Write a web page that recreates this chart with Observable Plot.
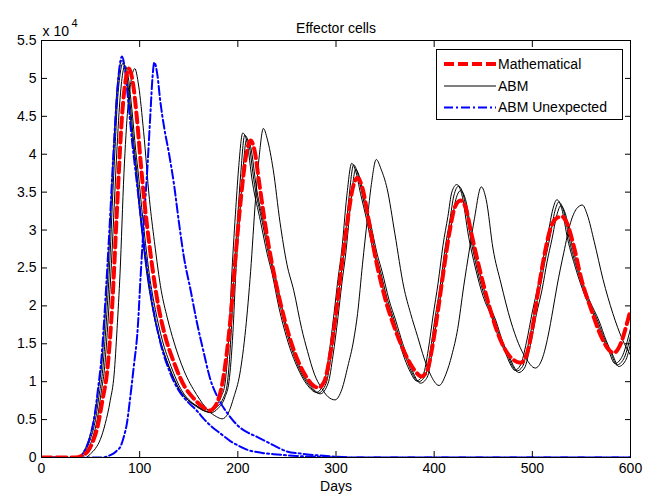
<!DOCTYPE html>
<html><head><meta charset="utf-8">
<script src="https://cdn.jsdelivr.net/npm/d3@7"></script>
<script src="https://cdn.jsdelivr.net/npm/@observablehq/plot@0.6"></script>
<style>
body{margin:0;background:#fff;font-family:"Liberation Sans",Arial,sans-serif;}
#wrap{position:relative;width:654px;height:499px;overflow:hidden;}
#legend{position:absolute;left:436px;top:49px;width:185px;height:69px;border:1px solid #000;background:#fff;}
#legend svg{position:absolute;left:0;top:0;}
#legend text{font-family:"Liberation Sans",Arial,sans-serif;font-size:14px;fill:#000;}
</style>
</head><body>
<div id="wrap"></div>
<script>
// Tick values
const xTicks = [0, 100, 200, 300, 400, 500, 600];
const yTicks = [0, 0.5, 1, 1.5, 2, 2.5, 3, 3.5, 4, 4.5, 5, 5.5];

// Effector cells (x 10^4) vs days
const mathematical = [[0,0],[35,0],[42,0.03],[47,0.08],[52,0.2],[57,0.4],[62,0.75],[67,1.15],[72,2.0],[77,3.3],[82,4.5],[86,5.0],[89,5.13],[93,4.95],[97,4.5],[101,3.9],[105,3.35],[109,2.9],[113,2.5],[119,2.0],[126,1.6],[135,1.25],[146,0.93],[155,0.78],[163,0.68],[171,0.62],[178,0.7],[183,0.9],[188,1.3],[193,1.9],[198,2.7],[203,3.4],[208,3.95],[213,4.18],[217,4.05],[222,3.6],[230,2.9],[238,2.35],[248,1.8],[258,1.38],[268,1.1],[276,0.96],[282,0.92],[288,1.0],[294,1.35],[300,1.9],[306,2.55],[312,3.15],[317,3.55],[322,3.69],[327,3.55],[333,3.15],[340,2.65],[350,2.1],[360,1.7],[370,1.38],[380,1.15],[387,1.07],[393,1.15],[398,1.45],[404,1.95],[410,2.5],[416,3.0],[421,3.3],[427,3.39],[432,3.3],[438,2.95],[446,2.5],[456,2.0],[466,1.6],[476,1.35],[488,1.25],[494,1.35],[500,1.7],[506,2.2],[512,2.65],[518,3.0],[524,3.15],[530,3.18],[535,3.1],[542,2.8],[550,2.35],[560,1.95],[570,1.6],[578,1.42],[583,1.38],[590,1.5],[596,1.75],[600,1.95]];

const abmRunA = [[0,0],[38,0],[42,0.04],[46,0.12],[50,0.25],[55,0.5],[59,0.85],[62,1.11],[65,1.6],[67,1.99],[70,2.7],[72,3.31],[75,4.1],[77,4.62],[80,5.05],[83,5.2],[86,5.1],[90,4.7],[94,4.15],[97,3.78],[100,3.35],[104,2.85],[108,2.43],[114,1.95],[121,1.55],[130,1.2],[141,0.89],[150,0.75],[159,0.67],[170,0.6],[178,0.66],[185,0.78],[189,0.95],[193,1.6],[196,2.4],[200,3.2],[203,3.75],[207,4.25],[211,4.15],[217,3.6],[225,3.1],[232,2.65],[237,2.4],[244,1.95],[252,1.55],[263,1.16],[272,0.96],[282,0.85],[290,0.98],[295,1.35],[300,1.85],[304,2.3],[308,2.7],[313,3.4],[318,3.86],[322,3.75],[327,3.45],[333,3.13],[340,2.7],[345,2.47],[352,2.1],[359,1.82],[366,1.52],[372,1.29],[378,1.1],[384,1.0],[391,1.08],[396,1.4],[401,1.85],[406,2.25],[411,2.75],[416,3.13],[420,3.45],[425,3.58],[430,3.45],[437,2.9],[444,2.47],[452,2.1],[461,1.82],[468,1.55],[474,1.38],[480,1.2],[484,1.14],[490,1.2],[496,1.5],[502,1.9],[508,2.25],[513,2.6],[518,2.91],[523,3.25],[527,3.37],[532,3.25],[538,2.85],[546,2.47],[556,2.1],[566,1.82],[573,1.58],[580,1.38],[586,1.22],[593,1.3],[600,1.6]];

const abmRunB = [[0,0],[40,0],[44,0.04],[48,0.12],[52,0.26],[57,0.52],[61,0.88],[64,1.15],[67,1.65],[69,2.05],[72,2.75],[74,3.3],[77,4.1],[79,4.55],[82,5.0],[85,5.17],[88,5.05],[92,4.6],[96,4.05],[99,3.7],[102,3.3],[106,2.82],[110,2.4],[116,1.95],[123,1.55],[132,1.2],[143,0.88],[152,0.74],[161,0.66],[172,0.59],[180,0.65],[187,0.8],[191,1.0],[195,1.65],[198,2.45],[202,3.2],[205,3.75],[209,4.2],[213,4.1],[219,3.55],[227,3.05],[234,2.6],[239,2.35],[246,1.92],[254,1.52],[265,1.14],[274,0.95],[284,0.84],[292,0.98],[297,1.35],[302,1.85],[306,2.3],[310,2.7],[315,3.35],[320,3.8],[324,3.7],[329,3.42],[335,3.1],[342,2.68],[347,2.45],[354,2.08],[361,1.8],[368,1.5],[374,1.28],[380,1.08],[386,0.98],[393,1.06],[398,1.4],[403,1.85],[408,2.25],[413,2.75],[418,3.1],[422,3.4],[427,3.52],[432,3.4],[439,2.88],[446,2.45],[454,2.08],[463,1.8],[470,1.52],[476,1.35],[482,1.18],[486,1.12],[492,1.18],[498,1.48],[504,1.88],[510,2.22],[515,2.58],[520,2.88],[525,3.2],[529,3.32],[534,3.2],[540,2.82],[548,2.44],[558,2.08],[568,1.8],[575,1.55],[582,1.35],[588,1.2],[595,1.28],[600,1.5]];

const abmRunC = [[0,0],[37,0],[41,0.04],[45,0.13],[49,0.27],[54,0.55],[58,0.9],[61,1.18],[64,1.7],[66,2.1],[69,2.8],[71,3.4],[74,4.2],[76,4.7],[79,5.1],[82,5.24],[85,5.12],[89,4.7],[93,4.15],[96,3.8],[99,3.38],[103,2.88],[107,2.45],[113,1.97],[120,1.57],[129,1.22],[140,0.9],[149,0.76],[158,0.67],[168,0.61],[176,0.67],[183,0.8],[187,0.98],[191,1.65],[194,2.45],[198,3.3],[201,3.85],[205,4.28],[209,4.18],[215,3.62],[223,3.12],[230,2.68],[235,2.42],[242,1.97],[250,1.57],[261,1.18],[270,0.97],[280,0.86],[288,0.99],[293,1.38],[298,1.9],[302,2.35],[306,2.75],[311,3.45],[316,3.88],[320,3.78],[325,3.48],[331,3.15],[338,2.72],[343,2.5],[350,2.12],[357,1.84],[364,1.54],[370,1.3],[376,1.12],[382,1.01],[389,1.1],[394,1.42],[399,1.88],[404,2.3],[409,2.8],[414,3.18],[418,3.5],[423,3.6],[428,3.48],[435,2.92],[442,2.5],[450,2.12],[459,1.84],[466,1.57],[472,1.4],[478,1.22],[482,1.15],[488,1.22],[494,1.52],[500,1.92],[506,2.28],[511,2.62],[516,2.95],[521,3.28],[525,3.4],[530,3.28],[536,2.88],[544,2.5],[554,2.12],[564,1.84],[571,1.6],[578,1.4],[584,1.24],[591,1.32],[600,1.7]];

const abmRunLate = [[0,0],[45,0],[50,0.05],[55,0.12],[60,0.24],[65,0.45],[70,0.75],[74,1.1],[77,1.7],[80,2.43],[84,3.75],[88,4.62],[91,4.95],[95,5.13],[99,4.9],[104,4.3],[110,3.4],[115,2.85],[122,2.2],[128,1.85],[135,1.52],[145,1.15],[158,0.83],[170,0.62],[178,0.54],[184,0.51],[190,0.58],[196,0.8],[202,1.1],[208,1.7],[213,2.45],[218,3.4],[222,4.0],[226,4.34],[230,4.2],[236,3.8],[243,3.1],[250,2.55],[257,2.2],[265,1.7],[271,1.4],[278,1.1],[285,0.92],[292,0.8],[299,0.76],[306,0.9],[312,1.2],[318,1.55],[322,1.9],[327,2.55],[332,3.15],[336,3.6],[341,3.93],[346,3.8],[352,3.55],[360,2.95],[369,2.25],[376,1.9],[383,1.6],[390,1.3],[396,1.1],[405,0.95],[412,1.1],[418,1.35],[424,1.7],[430,2.25],[436,2.75],[441,3.15],[448,3.57],[453,3.4],[460,2.75],[468,2.3],[478,1.8],[486,1.5],[493,1.32],[503,1.18],[510,1.3],[516,1.6],[521,1.95],[525,2.25],[532,2.7],[539,3.1],[545,3.28],[551,3.33],[556,3.2],[563,2.85],[572,2.35],[582,1.9],[592,1.55],[600,1.35]];

const unexpectedRun1 = [[0,0],[38,0],[42,0.05],[46,0.14],[50,0.3],[54,0.55],[58,0.95],[61,1.3],[64,1.85],[67,2.5],[70,3.2],[73,3.95],[76,4.6],[79,5.1],[82,5.29],[85,5.12],[88,4.75],[92,4.2],[96,3.75],[100,3.3],[104,2.85],[108,2.45],[114,1.95],[121,1.52],[130,1.15],[140,0.88],[150,0.72],[158,0.62],[166,0.5],[174,0.4],[182,0.32],[192,0.22],[200,0.16],[210,0.1],[225,0.06],[240,0.04],[260,0.02],[280,0.01],[300,0],[600,0]];

const unexpectedRun2 = [[0,0],[62,0],[70,0.03],[76,0.08],[81,0.16],[84,0.28],[87,0.45],[90,0.75],[94,1.2],[98,1.7],[101,2.4],[105,3.25],[108,3.85],[111,4.55],[113,5.0],[115,5.21],[118,5.05],[121,4.7],[125,4.35],[130,4.0],[135,3.6],[140,3.1],[145,2.65],[152,2.2],[158,1.8],[165,1.4],[172,1.03],[180,0.78],[189,0.59],[200,0.42],[210,0.33],[220,0.27],[235,0.17],[250,0.08],[265,0.05],[280,0.03],[300,0.01],[320,0],[600,0]];

const legendLabels = ["Mathematical", "ABM", "ABM Unexpected"];

const rows = pts => pts.map(([day, cells]) => ({day, cells}));
const FONT = '"Liberation Sans", Arial, sans-serif';

const blackLine = pts => Plot.line(rows(pts), {x: "day", y: "cells", stroke: "#000", strokeWidth: 1, curve: "monotone-x", clip: true});
const blueLine = pts => Plot.line(rows(pts), {x: "day", y: "cells", stroke: "#0000ff", strokeWidth: 2, strokeDasharray: "9,3,2,3", curve: "monotone-x", clip: true});

const chart = Plot.plot({
  width: 654, height: 499,
  marginTop: 40, marginLeft: 41, marginRight: 24, marginBottom: 42,
  style: {fontFamily: FONT, fontSize: "14px", background: "#fff", color: "#000", overflow: "visible"},
  x: {domain: [0, 600], label: null},
  y: {domain: [0, 5.5], label: null},
  marks: [
    blackLine(abmRunLate),
    blackLine(abmRunB),
    blackLine(abmRunC),
    blackLine(abmRunA),
    blueLine(unexpectedRun2),
    blueLine(unexpectedRun1),
    Plot.line(rows(mathematical), {x: "day", y: "cells", stroke: "#ff0000", strokeWidth: 4, strokeDasharray: "10,5", curve: "monotone-x", clip: true}),
    Plot.axisX({ticks: xTicks, tickSize: -6, tickPadding: 12, tickFormat: d => String(d), fontSize: 14, label: null}),
    Plot.axisX({anchor: "top", ticks: xTicks, tickSize: -6, tickFormat: () => "", label: null}),
    Plot.axisY({ticks: yTicks, tickSize: -6, tickPadding: 11, tickFormat: d => String(d), fontSize: 14, label: null}),
    Plot.axisY({anchor: "right", ticks: yTicks, tickSize: -6, tickFormat: () => "", label: null}),
    Plot.frame({stroke: "#000", strokeWidth: 1}),
    Plot.text(["Effector cells"], {frameAnchor: "top", dy: -17, fontSize: 14}),
    Plot.text(["x 10"], {frameAnchor: "top-left", textAnchor: "start", dx: 1, dy: -14, fontSize: 14}),
    Plot.text(["4"], {frameAnchor: "top-left", textAnchor: "start", dx: 30, dy: -21, fontSize: 11}),
    Plot.text(["Days"], {frameAnchor: "bottom", dy: 33, fontSize: 14})
  ]
});

const wrap = document.getElementById("wrap");
wrap.appendChild(chart);

// Legend box
const legend = document.createElement("div");
legend.id = "legend";
const ns = "http://www.w3.org/2000/svg";
const lsvg = document.createElementNS(ns, "svg");
lsvg.setAttribute("width", 185); lsvg.setAttribute("height", 69);
const styles = [
  {stroke: "#ff0000", width: 4, dash: "10,4"},
  {stroke: "#000", width: 1, dash: null},
  {stroke: "#0000ff", width: 2, dash: "9,3,2,3"}
];
const rowY = [14, 36, 57.5];
legendLabels.forEach((lab, i) => {
  const ln = document.createElementNS(ns, "line");
  ln.setAttribute("x1", 7); ln.setAttribute("x2", 59);
  ln.setAttribute("y1", rowY[i]); ln.setAttribute("y2", rowY[i]);
  ln.setAttribute("stroke", styles[i].stroke);
  ln.setAttribute("stroke-width", styles[i].width);
  if (styles[i].dash) ln.setAttribute("stroke-dasharray", styles[i].dash);
  lsvg.appendChild(ln);
  const tx = document.createElementNS(ns, "text");
  tx.setAttribute("x", 61); tx.setAttribute("y", rowY[i]);
  tx.setAttribute("dy", "0.35em");
  tx.textContent = lab;
  lsvg.appendChild(tx);
});
legend.appendChild(lsvg);
wrap.appendChild(legend);
</script>
</body></html>
